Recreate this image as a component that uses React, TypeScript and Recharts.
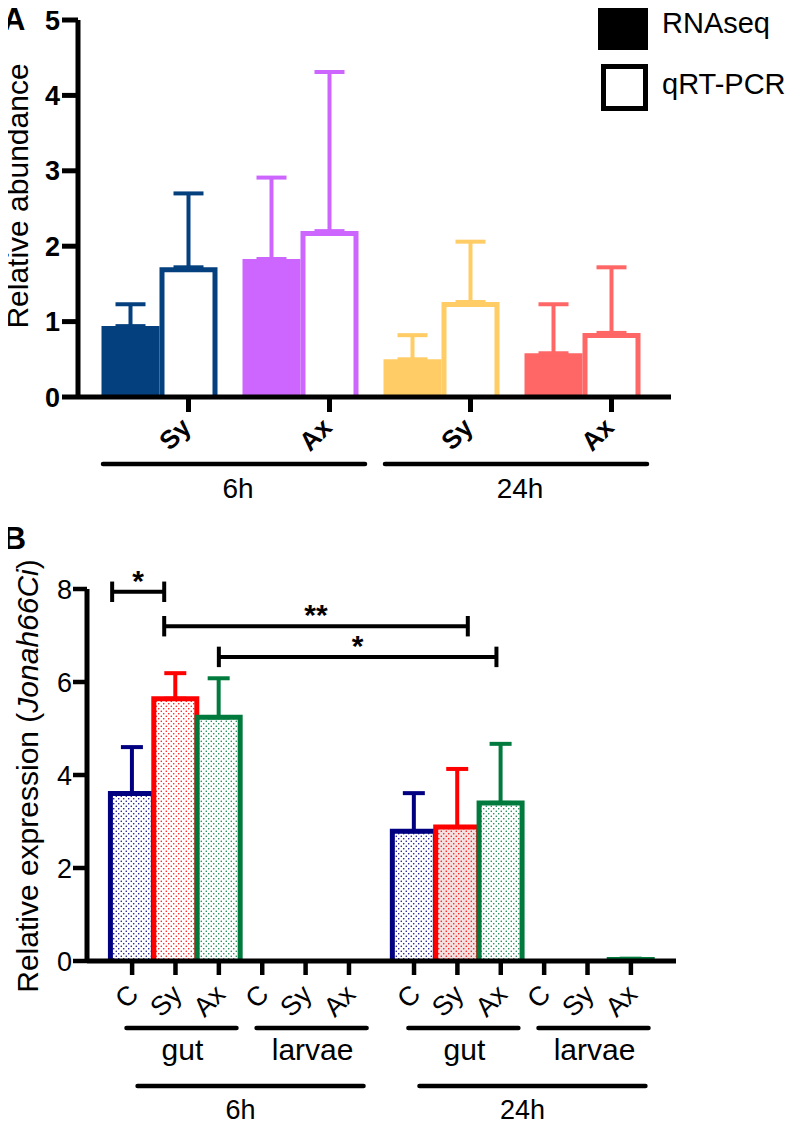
import React from "react";
import {
    BarChart,
    Bar,
    XAxis,
    YAxis,
    ErrorBar,
    Cell,
    Legend,
    ReferenceLine,
} from "recharts";

const FONT = '"Liberation Sans", Arial, Helvetica, sans-serif';

// ---- panel A: RNAseq vs qRT-PCR ----
const samplesA = ["Sy", "Ax", "Sy", "Ax"];
const timesA = ["6h", "6h", "24h", "24h"];
const rnaseq = [0.94, 1.83, 0.5, 0.58];
const rnaseqErr = [0.29, 1.08, 0.32, 0.65];
const qrtpcr = [1.72, 2.2, 1.26, 0.85];
const qrtpcrErr = [0.98, 2.11, 0.8, 0.87];
const ticksA = [0, 1, 2, 3, 4, 5];
const legendA = ["RNAseq", "qRT-PCR"];
const colorsA = ["#043f7e", "#cc66ff", "#ffcc66", "#ff6666"];

// ---- panel B: Jonah66Ci expression ----
const samplesB = ["C", "Sy", "Ax", "C", "Sy", "Ax", "C", "Sy", "Ax", "C", "Sy", "Ax"];
const tissuesB = ["gut", "larvae", "gut", "larvae"];
const timesB = ["6h", "24h"];
const expression = [3.6, 5.64, 5.24, 0, 0, 0, 2.79, 2.88, 3.4, 0, 0, 0.03];
const expressionErr = [1.0, 0.55, 0.84, 0, 0, 0, 0.82, 1.25, 1.27, 0, 0, 0.02];
const ticksB = [0, 2, 4, 6, 8];
const sigPairs = [[0, 1], [1, 7], [2, 8]];
const sigLevels = [7.94, 7.2, 6.54];
const sigLabels = ["*", "**", "*"];
const colorsB: Record<string, string> = { C: "#000080", Sy: "#ff0000", Ax: "#007a3d" };

// layout
const A_MARGIN = { top: 20, right: 129, bottom: 0, left: 20 };
const A_PAD = { left: 11, right: 18 };
const A_PLOT_W = 800 - A_MARGIN.left - 58 - A_MARGIN.right;
const bandA = (A_PLOT_W - A_PAD.left - A_PAD.right) / samplesA.length;
const gapA = 12.5;
const barA = (bandA - 2 * gapA) / 2;

const B_MARGIN = { top: 89, right: 124, bottom: 0, left: 20 };
const B_PLOT_W = 800 - B_MARGIN.left - 67 - B_MARGIN.right;
const domainB: [number, number] = [-1.04, 12.54];
const stepB = B_PLOT_W / (domainB[1] - domainB[0]);
const TIME_GAP = 0.5;

const rowsA = samplesA.map((s, i) => {
    const r: any = { key: `${timesA[i]} ${s}`, rnaseq: rnaseq[i], qrtpcr: qrtpcr[i] };
    colorsA.forEach((_, k) => {
        r[`rnaErr${k}`] = k === i ? [0, rnaseqErr[i]] : undefined;
        r[`qrtErr${k}`] = k === i ? [0, qrtpcrErr[i]] : undefined;
    });
    return r;
});

const rowsB = samplesB.map((s, i) => {
    const r: any = {
        pos: i + Math.floor(i / 6) * TIME_GAP,
        sample: s,
        value: expression[i],
    };
    Object.keys(colorsB).forEach((k) => {
        r[`err${k}`] = k === s && expressionErr[i] > 0 ? [0, expressionErr[i]] : undefined;
    });
    return r;
});

function OpenBar(props: any) {
    const { x, y, width, height, index } = props;
    if (!(height > 0)) return null;
    const h = 2.5;
    return (
        <path
            d={`M${x + h},${y + height} V${y + h} H${x + width - h} V${y + height}`}
            fill="none"
            stroke={colorsA[index]}
            strokeWidth={5}
        />
    );
}

function DotBar(props: any) {
    const { x, y, width, height, index } = props;
    if (!(height > 0)) return null;
    const c = colorsB[samplesB[index]];
    return (
        <g>
            <rect x={x} y={y} width={width} height={height} fill={`url(#dots${index})`} />
            <path
                d={`M${x},${y + height} V${y} H${x + width} V${y + height}`}
                fill="none"
                stroke={c}
                strokeWidth={5}
            />
        </g>
    );
}

function TickA({ x, y, index }: any) {
    const tx = x + barA / 2;
    const lx = tx + 4;
    const ly = y + 32;
    const gx = x + bandA / 2;
    return (
        <g>
            <line x1={tx} x2={tx} y1={y} y2={y + 15} stroke="#000" strokeWidth={5} />
            <text
                x={lx}
                y={ly}
                transform={`rotate(-45 ${lx} ${ly})`}
                textAnchor="end"
                fontSize={26}
                fontWeight="bold"
                fontFamily={FONT}
            >
                {samplesA[index]}
            </text>
            {index % 2 === 0 && (
                <>
                    <line x1={gx - 127} x2={gx + 135} y1={y + 67} y2={y + 67} stroke="#000" strokeWidth={4.5} strokeLinecap="round" />
                    <text x={gx + 8} y={y + 101} textAnchor="middle" fontSize={28} fontFamily={FONT}>
                        {timesA[index]}
                    </text>
                </>
            )}
        </g>
    );
}

function TickB({ x, y, payload }: any) {
    const i = rowsB.findIndex((r) => r.pos === payload.value);
    if (i < 0) return null;
    const lx = x + 8;
    const ly = y + 35;
    const gx = x + stepB / 2;
    return (
        <g>
            <line x1={x} x2={x} y1={y} y2={y + 14} stroke="#000" strokeWidth={4.5} />
            <text x={lx} y={ly} transform={`rotate(-45 ${lx} ${ly})`} textAnchor="end" fontSize={27} fontFamily={FONT}>
                {samplesB[i]}
            </text>
            {i % 3 === 1 && (
                <>
                    <line x1={x - 49} x2={x + 61} y1={y + 67} y2={y + 67} stroke="#000" strokeWidth={4.5} strokeLinecap="round" />
                    <text x={x + 7} y={y + 99} textAnchor="middle" fontSize={30} fontFamily={FONT}>
                        {tissuesB[Math.floor(i / 3)]}
                    </text>
                </>
            )}
            {i % 6 === 2 && (
                <>
                    <line x1={gx - 103} x2={gx + 123} y1={y + 125} y2={y + 125} stroke="#000" strokeWidth={4.5} strokeLinecap="round" />
                    <text x={gx} y={y + 158} textAnchor="middle" fontSize={27} fontFamily={FONT}>
                        {timesB[Math.floor(i / 6)]}
                    </text>
                </>
            )}
        </g>
    );
}

const TitleA = () => (
    <text x={28} y={196} transform="rotate(-90 28 196)" textAnchor="middle" fontSize={30} fontFamily={FONT} fill="#000">
        Relative abundance
    </text>
);

const TitleB = () => (
    <text x={38} y={276} transform="rotate(-90 38 276)" textAnchor="middle" fontSize={30} fontFamily={FONT} fill="#000">
        Relative expression (<tspan fontStyle="italic">Jonah66Ci</tspan>)
    </text>
);

function LegendA() {
    return (
        <svg width={210} height={120}>
            {legendA.map((name, i) => {
                const top = 3 + i * 61;
                return (
                    <g key={name}>
                        {i === 0 ? (
                            <rect x={8} y={top} width={50} height={47} fill="#000" />
                        ) : (
                            <rect x={13.5} y={top + 2.5} width={42} height={42} fill="#fff" stroke="#000" strokeWidth={5} />
                        )}
                        <text x={72} y={top + 30} fontSize={29} fontFamily={FONT} fill="#000">
                            {name}
                        </text>
                    </g>
                );
            })}
        </svg>
    );
}

function PanelA() {
    return (
        <BarChart
            width={800}
            height={520}
            data={rowsA}
            margin={A_MARGIN}
            barGap={0}
            barCategoryGap={gapA}
        >
            <Legend
                content={LegendA}
                layout="horizontal"
                verticalAlign="middle"
                align="center"
                wrapperStyle={{ position: "absolute", left: 590, top: 0, width: 210, height: 120 }}
            />
            <Bar dataKey="rnaseq" isAnimationActive={false}>
                {rowsA.map((_, i) => (
                    <Cell key={`rna-${i}`} fill={colorsA[i]} />
                ))}
                {colorsA.map((c, k) => (
                    <ErrorBar
                        key={`re-${k}`}
                        dataKey={`rnaErr${k}`}
                        stroke={c}
                        strokeWidth={4}
                        width={15}
                        isAnimationActive={false}
                    />
                ))}
            </Bar>
            <Bar dataKey="qrtpcr" isAnimationActive={false} shape={(p: any) => <OpenBar {...p} />}>
                {colorsA.map((c, k) => (
                    <ErrorBar
                        key={`qe-${k}`}
                        dataKey={`qrtErr${k}`}
                        stroke={c}
                        strokeWidth={4}
                        width={15}
                        isAnimationActive={false}
                    />
                ))}
            </Bar>
            <XAxis
                dataKey="key"
                type="category"
                interval={0}
                height={123}
                padding={A_PAD}
                tickLine={false}
                tickSize={0}
                tickMargin={0}
                axisLine={{ stroke: "#000", strokeWidth: 5 }}
                tick={<TickA />}
            />
            <YAxis
                domain={[0, 5]}
                ticks={ticksA}
                width={58}
                tickSize={16}
                tickMargin={2}
                axisLine={{ stroke: "#000", strokeWidth: 5 }}
                tickLine={{ stroke: "#000", strokeWidth: 5 }}
                tick={{ fontSize: 27, fontWeight: "bold", fill: "#000", fontFamily: FONT }}
                label={<TitleA />}
            />
        </BarChart>
    );
}

function PanelB() {
    return (
        <BarChart width={800} height={628} data={rowsB} margin={B_MARGIN}>
            <defs>
                {rowsB.map((r, i) => (
                    <pattern key={`p${i}`} id={`dots${i}`} width={5} height={5} patternUnits="userSpaceOnUse">
                        <rect width={5} height={5} fill={r.sample === "Sy" && i >= 6 ? "#f3e1e1" : "#fff"} />
                        <circle cx={1.25} cy={1.25} r={0.75} fill={colorsB[r.sample]} />
                        <circle cx={3.75} cy={3.75} r={0.75} fill={colorsB[r.sample]} />
                    </pattern>
                ))}
            </defs>
            <Bar dataKey="value" barSize={43} isAnimationActive={false} shape={(p: any) => <DotBar {...p} />}>
                {Object.keys(colorsB).map((k) => (
                    <ErrorBar
                        key={`eb-${k}`}
                        dataKey={`err${k}`}
                        stroke={colorsB[k]}
                        strokeWidth={4}
                        width={11}
                        isAnimationActive={false}
                    />
                ))}
            </Bar>
            {sigPairs.map(([a, b], n) => {
                const x1 = rowsB[a].pos + [-0.46, -0.26, 0][n];
                const x2 = rowsB[b].pos + [-0.26, 0.24, -0.1][n];
                const yv = sigLevels[n];
                return (
                    <React.Fragment key={`sig-${n}`}>
                        <ReferenceLine
                            segment={[{ x: x1, y: yv }, { x: x2, y: yv }]}
                            stroke="#000"
                            strokeWidth={4}
                            ifOverflow="visible"
                            label={{ value: sigLabels[n], position: "top", offset: 1, fontSize: 30, fontWeight: "bold", fill: "#000", fontFamily: FONT }}
                        />
                        <ReferenceLine segment={[{ x: x1, y: yv - 0.22 }, { x: x1, y: yv + 0.22 }]} stroke="#000" strokeWidth={4} ifOverflow="visible" />
                        <ReferenceLine segment={[{ x: x2, y: yv - 0.22 }, { x: x2, y: yv + 0.22 }]} stroke="#000" strokeWidth={4} ifOverflow="visible" />
                    </React.Fragment>
                );
            })}
            <XAxis
                dataKey="pos"
                type="number"
                domain={domainB}
                ticks={rowsB.map((r) => r.pos)}
                interval={0}
                height={167}
                tickLine={false}
                tickSize={0}
                tickMargin={0}
                axisLine={{ stroke: "#000", strokeWidth: 5 }}
                tick={<TickB />}
            />
            <YAxis
                domain={[0, 8]}
                ticks={ticksB}
                width={67}
                tickSize={14}
                tickMargin={1}
                axisLine={{ stroke: "#000", strokeWidth: 5 }}
                tickLine={{ stroke: "#000", strokeWidth: 4.5 }}
                tick={{ fontSize: 27, fill: "#000", fontFamily: FONT }}
                label={<TitleB />}
            />
        </BarChart>
    );
}

export default function App() {
    return (
        <div style={{ position: "relative", width: 800, height: 1128, margin: -8, background: "#fff", fontFamily: FONT }}>
            <div style={{ position: "absolute", left: 0, top: 0 }}>
                <PanelA />
            </div>
            <div style={{ position: "absolute", left: 0, top: 500 }}>
                <PanelB />
            </div>
            <svg
                width={44}
                height={560}
                style={{ position: "absolute", left: 0, top: 0, pointerEvents: "none" }}
            >
                <text x={3} y={30} fontSize={31} fontWeight="bold" fontFamily={FONT} fill="#000">A</text>
                <text x={3} y={549} fontSize={32} fontWeight="bold" fontFamily={FONT} fill="#000">B</text>
            </svg>
        </div>
    );
}
